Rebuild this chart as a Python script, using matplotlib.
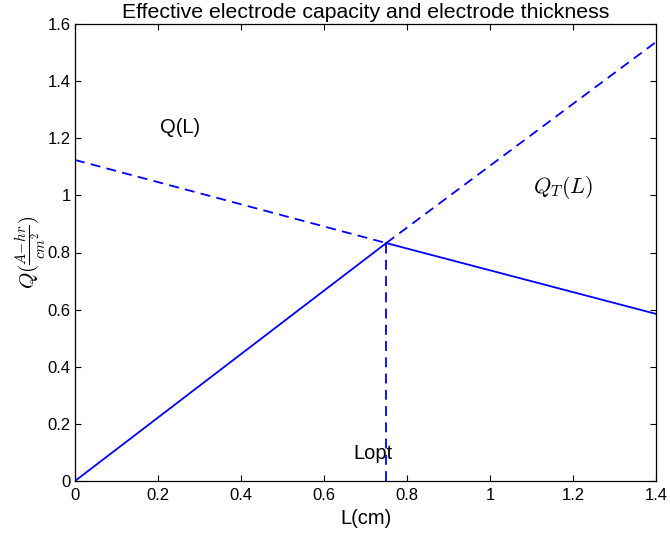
import matplotlib
matplotlib.use("Agg")
import matplotlib.pyplot as plt

plt.rcParams['font.family'] = ['Liberation Sans', 'DejaVu Sans']
plt.rcParams['mathtext.fontset'] = 'cm'

# Data
L_end = [0.0, 0.75, 1.4]
Q_solid = [0.0, 0.833, 0.585]          # Q(L): increasing then decreasing
Q_dash = [1.124, 0.833, 1.537]         # dashed extensions
L_opt = 0.75
Q_opt = 0.833

xticks = [0, 0.2, 0.4, 0.6, 0.8, 1, 1.2, 1.4]
xticklabels = ['0', '0.2', '0.4', '0.6', '0.8', '1', '1.2', '1.4']
yticks = [0, 0.2, 0.4, 0.6, 0.8, 1, 1.2, 1.4, 1.6]
yticklabels = ['0', '0.2', '0.4', '0.6', '0.8', '1', '1.2', '1.4', '1.6']

fig = plt.figure(figsize=(6.7, 5.39), dpi=100)
ax = fig.add_axes([75/670, 58/539, 581/670, 457/539])

lw = 1.3
dash = (0, (5.5, 3.5))
ax.plot(L_end[:2], Q_solid[:2], color='blue', lw=lw)
ax.plot(L_end[1:], Q_solid[1:], color='blue', lw=lw)
ax.plot(L_end[:2], Q_dash[:2], color='blue', lw=lw, ls=dash)
ax.plot(L_end[1:], Q_dash[1:], color='blue', lw=lw, ls=dash)
ax.plot([L_opt, L_opt], [0, Q_opt], color='blue', lw=lw, ls=dash)

ax.text(0.254, 1.236, 'Q(L)', fontsize=14.5, ha='center', va='center')
ax.text(1.176, 1.026, r'$Q_T(L)$', fontsize=16, ha='center', va='center')
ax.text(0.717, 0.098, 'Lopt', fontsize=14.5, ha='center', va='center')

ax.set_xlim(0, 1.4)
ax.set_ylim(0, 1.6)
ax.set_xticks(xticks)
ax.set_xticklabels(xticklabels)
ax.set_yticks(yticks)
ax.set_yticklabels(yticklabels)
ax.tick_params(direction='in', top=True, right=True, labelsize=12, length=4.5, width=0.8)
ax.tick_params(axis='x', pad=5)
ax.tick_params(axis='y', pad=3)
for s in ax.spines.values():
    s.set_linewidth(0.9)

ax.set_xlabel('L(cm)', fontsize=14.5, labelpad=4)
ax.set_ylabel(r'$Q(\frac{A\!-\!hr}{cm^2})$', fontsize=15, labelpad=0)
ax.set_title('Effective electrode capacity and electrode thickness', fontsize=15.3, pad=4)

fig.savefig('out.png', dpi=100)
